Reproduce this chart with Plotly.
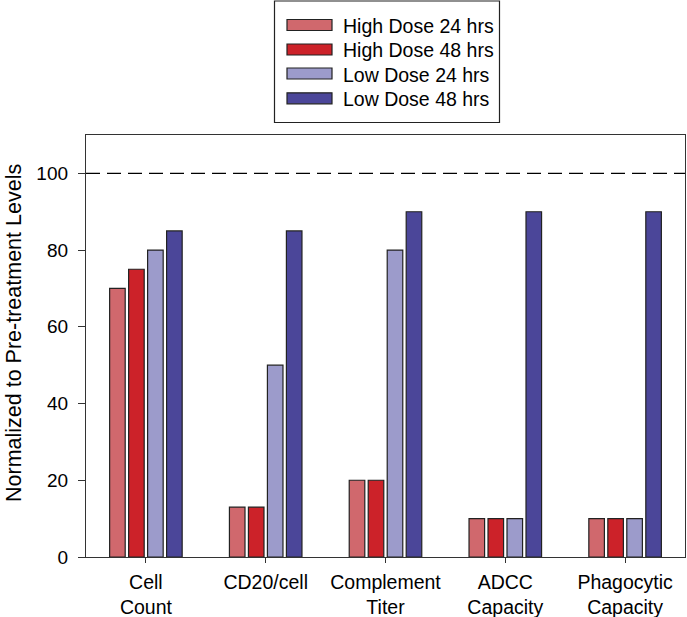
import plotly.graph_objects as go

categories = ["Cell<br>Count", "CD20/cell", "Complement<br>Titer", "ADCC<br>Capacity", "Phagocytic<br>Capacity"]
series_names = ["High Dose 24 hrs", "High Dose 48 hrs", "Low Dose 24 hrs", "Low Dose 48 hrs"]
high24 = [70, 13, 20, 10, 10]
high48 = [75, 13, 20, 10, 10]
low24 = [80, 50, 80, 10, 10]
low48 = [85, 85, 90, 90, 90]
colors = ["#D0686D", "#CC2229", "#9C9BCB", "#4B4699"]
reference_level = 100
y_ticks = [0, 20, 40, 60, 80, 100]
y_title = "Normalized to Pre-treatment Levels"

W, H = 687, 617
L, R, T, B = 86, 2, 135, 60
pw, ph = W - L - R, H - T - B
FONT = "Liberation Sans, Arial, sans-serif"

def px_x(x):
    return (x - L) / pw

def px_y(y):
    return (H - B - y) / ph

fig = go.Figure()
for name, vals, col in zip(series_names, [high24, high48, low24, low48], colors):
    fig.add_trace(go.Bar(
        x=list(range(len(categories))), y=vals, name=name,
        marker=dict(color=col, line=dict(color="#222222", width=1.2)),
        showlegend=False,
    ))

fig.add_shape(type="line", xref="paper", x0=0, x1=1, yref="y", y0=reference_level, y1=reference_level,
              line=dict(color="black", width=1.3, dash="14px,7px"))

# legend box drawn manually
fig.add_shape(type="rect", xref="paper", yref="paper",
              x0=px_x(274.5), x1=px_x(499.5), y0=px_y(122.5), y1=px_y(1),
              line=dict(color="#222222", width=1.2), fillcolor="white")
row_y = [25, 49.5, 73.5, 98.3]
for name, col, yy in zip(series_names, colors, row_y):
    fig.add_shape(type="rect", xref="paper", yref="paper",
                  x0=px_x(287), x1=px_x(332), y0=px_y(yy + 5.5), y1=px_y(yy - 5.5),
                  line=dict(color="#222222", width=1.2), fillcolor=col)
    fig.add_annotation(xref="paper", yref="paper", x=px_x(341), y=px_y(yy + 1),
                       text=name, showarrow=False, xanchor="left", yanchor="middle",
                       font=dict(size=19.5, color="black", family=FONT))

# y-axis title
fig.add_annotation(xref="paper", yref="paper", x=px_x(0), y=px_y(333),
                   text=y_title, textangle=-90, showarrow=False,
                   xanchor="left", yanchor="middle",
                   font=dict(size=21.5, color="black", family=FONT))

fig.update_layout(
    width=W, height=H,
    margin=dict(l=L, r=R, t=T, b=B, autoexpand=False),
    paper_bgcolor="white", plot_bgcolor="white",
    barmode="group", bargap=0.366, bargroupgap=0.18,
    font=dict(family=FONT, size=19, color="black"),
)
fig.update_xaxes(
    range=[-0.5, 4.5], tickmode="array", tickvals=list(range(len(categories))), ticktext=categories,
    showline=True, linecolor="#333333", linewidth=1.3, mirror=True,
    ticks="outside", ticklen=5, tickcolor="#333333", showgrid=False, zeroline=False,
    tickfont=dict(size=19.5), ticklabelstandoff=2, automargin=False,
)
fig.update_yaxes(
    range=[0, 110], tickvals=y_ticks,
    showline=True, linecolor="#333333", linewidth=1.3, mirror=True,
    ticks="outside", ticklen=7, tickcolor="#333333", showgrid=False, zeroline=False,
    tickfont=dict(size=19), ticklabelstandoff=6, automargin=False,
)

fig.write_html("out.html", config={"displayModeBar": False},
               post_script="document.body.style.margin='0px';")
